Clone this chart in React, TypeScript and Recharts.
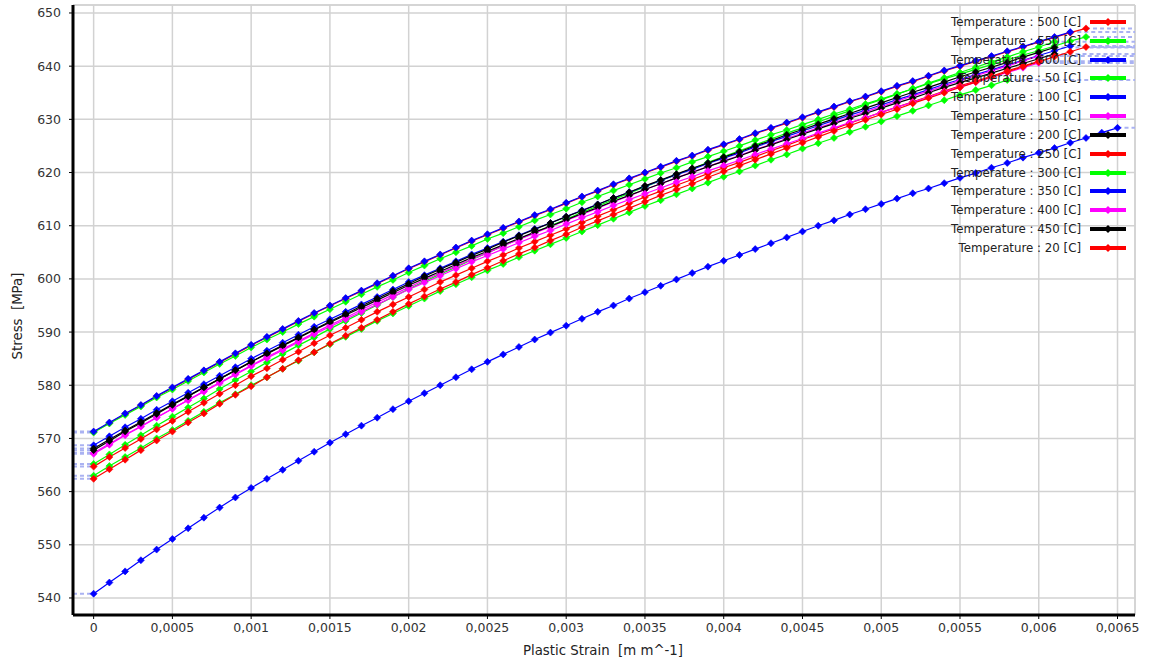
import React from 'react';
import { LineChart, Line, XAxis, YAxis, CartesianGrid, ReferenceLine } from 'recharts';

// Plastic strain grid [m m^-1]
const STRAIN = [
  0, 0.0001, 0.0002, 0.0003, 0.0004, 0.0005, 0.0006, 0.0007, 0.0008, 0.0009,
  0.001, 0.0011, 0.0012, 0.0013, 0.0014, 0.0015, 0.0016, 0.0017, 0.0018, 0.0019,
  0.002, 0.0021, 0.0022, 0.0023, 0.0024, 0.0025, 0.0026, 0.0027, 0.0028, 0.0029,
  0.003, 0.0031, 0.0032, 0.0033, 0.0034, 0.0035, 0.0036, 0.0037, 0.0038, 0.0039,
  0.004, 0.0041, 0.0042, 0.0043, 0.0044, 0.0045, 0.0046, 0.0047, 0.0048, 0.0049,
  0.005, 0.0051, 0.0052, 0.0053, 0.0054, 0.0055, 0.0056, 0.0057, 0.0058, 0.0059,
  0.006, 0.0061, 0.0062, 0.0063, 0.0064, 0.0065,
];

const X_TICKS = [0, 0.0005, 0.001, 0.0015, 0.002, 0.0025, 0.003, 0.0035, 0.004, 0.0045, 0.005, 0.0055, 0.006, 0.0065];
const Y_TICKS = [540, 550, 560, 570, 580, 590, 600, 610, 620, 630, 640, 650];
const X_MIN = -0.000131;
const X_MAX = 0.006611;
const Y_MIN = 536.8;
const Y_MAX = 651.5;

// Stress [MPa] per temperature
const T500 = [
  571.2, 572.9, 574.6, 576.2, 577.9, 579.5, 581.1, 582.7, 584.3, 585.9,
  587.5, 589.0, 590.5, 592.0, 593.5, 594.9, 596.3, 597.7, 599.1, 600.5,
  601.9, 603.2, 604.5, 605.8, 607.1, 608.3, 609.5, 610.7, 611.9, 613.0,
  614.2, 615.4, 616.5, 617.7, 618.8, 619.9, 621.0, 622.1, 623.1, 624.2,
  625.2, 626.2, 627.3, 628.3, 629.3, 630.3, 631.3, 632.3, 633.3, 634.2,
  635.2, 636.2, 637.1, 638.1, 639.1, 640.0, 640.9, 641.8, 642.7, 643.6,
  644.5, 645.4, 646.3, 647.1,
];
const T550 = [
  571.1, 572.8, 574.4, 576.0, 577.7, 579.2, 580.8, 582.4, 584.0, 585.5,
  587.1, 588.6, 590.0, 591.5, 592.9, 594.3, 595.7, 597.1, 598.5, 599.8,
  601.2, 602.5, 603.8, 605.0, 606.2, 607.5, 608.6, 609.8, 611.0, 612.1,
  613.2, 614.4, 615.5, 616.6, 617.7, 618.8, 619.9, 620.9, 622.0, 623.0,
  624.0, 625.0, 626.1, 627.1, 628.0, 629.0, 630.0, 631.0, 631.9, 632.9,
  633.8, 634.8, 635.7, 636.7, 637.6, 638.5, 639.4, 640.3, 641.2, 642.1,
  642.9, 643.8, 644.7, 645.5,
];
const T600 = [
  571.3, 573.0, 574.7, 576.3, 578.0, 579.6, 581.2, 582.8, 584.4, 586.0,
  587.6, 589.1, 590.6, 592.1, 593.6, 595.0, 596.4, 597.8, 599.2, 600.6,
  602.0, 603.3, 604.6, 605.9, 607.2, 608.4, 609.6, 610.8, 612.0, 613.1,
  614.3, 615.5, 616.6, 617.8, 618.9, 620.0, 621.1, 622.2, 623.2, 624.3,
  625.3, 626.3, 627.4, 628.4, 629.4, 630.4, 631.4, 632.4, 633.4, 634.3,
  635.3, 636.3, 637.2, 638.2, 639.2, 640.1, 641.0, 641.9, 642.8, 643.7,
  644.6, 645.5, 646.4,
];
const T50 = [
  565.2, 567.0, 568.8, 570.6, 572.4, 574.1, 575.8, 577.5, 579.3, 581.0,
  582.6, 584.3, 585.9, 587.5, 589.0, 590.6, 592.1, 593.6, 595.1, 596.6,
  598.1, 599.5, 600.9, 602.2, 603.6, 604.9, 606.2, 607.5, 608.7, 610.0,
  611.2, 612.5, 613.7, 614.9, 616.1, 617.3, 618.5, 619.6, 620.7, 621.9,
  623.0, 624.1, 625.2, 626.3, 627.4, 628.4, 629.5, 630.6, 631.6, 632.7,
  633.7, 634.7, 635.8, 636.8, 637.8, 638.8, 639.8, 640.8, 641.7, 642.7,
  643.6, 644.6,
];
const T100 = [
  568.7, 570.4, 572.1, 573.7, 575.4, 577.0, 578.6, 580.2, 581.8, 583.4,
  585.0, 586.5, 588.0, 589.5, 591.0, 592.4, 593.8, 595.2, 596.6, 598.0,
  599.4, 600.7, 602.0, 603.3, 604.6, 605.8, 607.0, 608.2, 609.4, 610.5,
  611.7, 612.9, 614.0, 615.2, 616.3, 617.4, 618.5, 619.6, 620.6, 621.7,
  622.7, 623.7, 624.8, 625.8, 626.8, 627.8, 628.8, 629.8, 630.8, 631.7,
  632.7, 633.7, 634.6, 635.6, 636.6, 637.5, 638.4, 639.3, 640.2, 641.1,
  642.0, 642.9, 643.8,
];
const T150 = [
  567.1, 568.8, 570.6, 572.2, 573.9, 575.6, 577.2, 578.9, 580.5, 582.1,
  583.7, 585.3, 586.8, 588.3, 589.8, 591.3, 592.7, 594.2, 595.6, 597.0,
  598.4, 599.8, 601.1, 602.4, 603.7, 604.9, 606.2, 607.4, 608.6, 609.8,
  611.0, 612.1, 613.3, 614.5, 615.6, 616.8, 617.9, 619.0, 620.1, 621.1,
  622.2, 623.2, 624.3, 625.3, 626.4, 627.4, 628.4, 629.4, 630.4, 631.4,
  632.4, 633.4, 634.4, 635.3, 636.3, 637.3, 638.2, 639.1, 640.0, 641.0,
  641.9,
];
const T200 = [
  568.1, 569.8, 571.5, 573.1, 574.8, 576.4, 578.0, 579.6, 581.2, 582.8,
  584.4, 585.9, 587.4, 588.9, 590.4, 591.8, 593.2, 594.6, 596.0, 597.4,
  598.8, 600.1, 601.4, 602.7, 604.0, 605.2, 606.4, 607.6, 608.8, 609.9,
  611.1, 612.3, 613.4, 614.6, 615.7, 616.8, 617.9, 619.0, 620.0, 621.1,
  622.1, 623.1, 624.2, 625.2, 626.2, 627.2, 628.2, 629.2, 630.2, 631.1,
  632.1, 633.1, 634.0, 635.0, 636.0, 636.9, 637.8, 638.7, 639.6, 640.5,
  641.4, 642.3,
];
const T250 = [
  564.7, 566.5, 568.2, 569.9, 571.7, 573.3, 575.0, 576.7, 578.4, 580.0,
  581.7, 583.2, 584.8, 586.3, 587.9, 589.4, 590.8, 592.3, 593.8, 595.2,
  596.6, 598.0, 599.4, 600.7, 602.0, 603.3, 604.5, 605.8, 607.0, 608.2,
  609.4, 610.6, 611.8, 613.0, 614.2, 615.4, 616.5, 617.6, 618.7, 619.8,
  620.9, 621.9, 623.0, 624.1, 625.1, 626.2, 627.2, 628.2, 629.3, 630.3,
  631.3, 632.3, 633.3, 634.3, 635.3, 636.3, 637.2, 638.1, 639.1, 640.0,
  640.9,
];
const T300 = [
  563.0, 564.8, 566.5, 568.2, 570.0, 571.6, 573.3, 575.0, 576.7, 578.3,
  580.0, 581.5, 583.1, 584.6, 586.2, 587.7, 589.1, 590.6, 592.1, 593.5,
  594.9, 596.3, 597.7, 599.0, 600.3, 601.6, 602.8, 604.1, 605.3, 606.5,
  607.7, 608.9, 610.1, 611.3, 612.5, 613.7, 614.8, 615.9, 617.0, 618.1,
  619.2, 620.2, 621.3, 622.4, 623.4, 624.5, 625.5, 626.5, 627.6, 628.6,
  629.6, 630.6, 631.6, 632.6, 633.6, 634.6, 635.5, 636.4, 637.4,
];
const T350 = [
  540.8, 542.9, 545.0, 547.1, 549.1, 551.1, 553.1, 555.1, 557.0, 558.9,
  560.7, 562.4, 564.1, 565.8, 567.5, 569.2, 570.8, 572.4, 573.9, 575.5,
  577.0, 578.5, 580.0, 581.5, 583.0, 584.4, 585.8, 587.2, 588.6, 589.9,
  591.2, 592.5, 593.8, 595.0, 596.3, 597.5, 598.7, 599.9, 601.1, 602.3,
  603.4, 604.5, 605.6, 606.7, 607.8, 608.9, 610.0, 611.0, 612.1, 613.1,
  614.1, 615.1, 616.1, 617.0, 618.0, 619.0, 619.9, 620.9, 621.8, 622.8,
  623.7, 624.6, 625.6, 626.5, 627.5, 628.4,
];
const T400 = [
  567.3, 569.0, 570.7, 572.3, 574.0, 575.6, 577.2, 578.8, 580.4, 582.0,
  583.6, 585.1, 586.6, 588.1, 589.6, 591.0, 592.4, 593.8, 595.2, 596.6,
  598.0, 599.3, 600.6, 601.9, 603.2, 604.4, 605.6, 606.8, 608.0, 609.1,
  610.3, 611.5, 612.6, 613.8, 614.9, 616.0, 617.1, 618.2, 619.2, 620.3,
  621.3, 622.3, 623.4, 624.4, 625.4, 626.4, 627.4, 628.4, 629.4, 630.3,
  631.3, 632.3, 633.2, 634.2, 635.2, 636.1, 637.0, 637.9, 638.8, 639.7,
  640.6,
];
const T450 = [
  567.8, 569.5, 571.3, 572.9, 574.6, 576.3, 577.9, 579.6, 581.2, 582.8,
  584.4, 586.0, 587.5, 589.0, 590.5, 592.0, 593.4, 594.9, 596.3, 597.7,
  599.1, 600.5, 601.8, 603.1, 604.4, 605.6, 606.9, 608.1, 609.3, 610.5,
  611.7, 612.8, 614.0, 615.2, 616.3, 617.5, 618.6, 619.7, 620.8, 621.8,
  622.9, 623.9, 625.0, 626.0, 627.1, 628.1, 629.1, 630.1, 631.1, 632.1,
  633.1, 634.1, 635.1, 636.0, 637.0, 638.0, 638.9, 639.8, 640.7, 641.7,
  642.6, 643.5,
];
const T20 = [
  562.4, 564.2, 566.0, 567.8, 569.6, 571.3, 573.0, 574.7, 576.5, 578.2,
  579.8, 581.5, 583.1, 584.7, 586.2, 587.8, 589.3, 590.8, 592.3, 593.8,
  595.3, 596.7, 598.1, 599.4, 600.8, 602.1, 603.4, 604.7, 605.9, 607.2,
  608.4, 609.7, 610.9, 612.1, 613.3, 614.5, 615.7, 616.8, 617.9, 619.1,
  620.2, 621.3, 622.4, 623.5, 624.6, 625.6, 626.7, 627.8, 628.8, 629.9,
  630.9, 631.9, 633.0, 634.0, 635.0, 636.0, 637.0, 638.0, 638.9, 639.9,
  640.8, 641.8, 642.7, 643.6,
];

const TEMPS = ['500', '550', '600', '50', '100', '150', '200', '250', '300', '350', '400', '450', '20'];
const COLORS = ['#ff0000', '#00ff00', '#0000ff', '#00ff00', '#0000ff', '#ff00ff', '#000000', '#ff0000', '#00ff00', '#0000ff', '#ff00ff', '#000000', '#ff0000'];
const VALUES = [T500, T550, T600, T50, T100, T150, T200, T250, T300, T350, T400, T450, T20];

const SERIES = TEMPS.map((t, i) => ({
  name: `Temperature : ${t} [C]`,
  color: COLORS[i],
  data: VALUES[i].map((v, k) => ({ x: STRAIN[k], y: v })),
}));

const fmtX = (v: number) => String(v).replace('.', ',');

const makeDot = (color: string, r: number) => (p: any) => {
  const { cx, cy, index } = p;
  if (cx == null || cy == null) return <g key={`e-${index}`} />;
  return (
    <polygon
      key={`d-${index}`}
      points={`${cx},${cy - r} ${cx + r},${cy} ${cx},${cy + r} ${cx - r},${cy}`}
      fill={color}
      stroke={color}
      strokeWidth={0.6}
    />
  );
};

const FONT = '"DejaVu Sans", Verdana, sans-serif';

export default function App() {
  return (
    <div style={{ position: 'absolute', left: 0, top: 0, width: 1152, height: 662, background: '#fff', fontFamily: FONT }}>
      <LineChart width={1152} height={662} margin={{ top: 5, right: 17, left: 13, bottom: 17 }}>
        <CartesianGrid stroke="#d2d2d2" strokeWidth={1.5} />
        <ReferenceLine y={Y_MAX} stroke="#d2d2d2" strokeWidth={1.5} />
        <ReferenceLine x={X_MAX} stroke="#d2d2d2" strokeWidth={1.5} />
        <XAxis
          type="number"
          dataKey="x"
          domain={[X_MIN, X_MAX]}
          ticks={X_TICKS}
          allowDataOverflow
          interval={0}
          height={30}
          tickFormatter={fmtX}
          axisLine={{ stroke: '#000', strokeWidth: 3 }}
          tickLine={{ stroke: '#000', strokeWidth: 1 }}
          tickSize={4}
          tickMargin={4}
          tick={{ fontSize: 12.5, fill: '#333', fontFamily: FONT }}
        />
        <YAxis
          type="number"
          domain={[Y_MIN, Y_MAX]}
          ticks={Y_TICKS}
          allowDataOverflow
          interval={0}
          width={60}
          axisLine={{ stroke: '#000', strokeWidth: 3 }}
          tickLine={{ stroke: '#000', strokeWidth: 1 }}
          tickSize={4}
          tickMargin={8}
          tick={{ fontSize: 12.5, fill: '#333', fontFamily: FONT }}
        />
        {SERIES.map((s, i) => (
          <Line
            key={`l-${i}`}
            data={[{ x: X_MIN, y: s.data[0].y }, { x: s.data[0].x, y: s.data[0].y }]}
            dataKey="y"
            stroke="#aab2f2"
            strokeWidth={2}
            strokeDasharray="4 3"
            dot={false}
            activeDot={false}
            isAnimationActive={false}
            legendType="none"
          />
        ))}
        {SERIES.map((s, i) => (
          <Line
            key={`r-${i}`}
            data={[{ x: s.data[s.data.length - 1].x, y: s.data[s.data.length - 1].y }, { x: X_MAX, y: s.data[s.data.length - 1].y }]}
            dataKey="y"
            stroke="#aab2f2"
            strokeWidth={2}
            strokeDasharray="4 3"
            dot={false}
            activeDot={false}
            isAnimationActive={false}
            legendType="none"
          />
        ))}
        {SERIES.map((s, i) => (
          <Line
            key={`s-${i}`}
            data={s.data}
            dataKey="y"
            name={s.name}
            stroke={s.color}
            strokeWidth={1.2}
            dot={makeDot(s.color, 3.5)}
            activeDot={false}
            isAnimationActive={false}
          />
        ))}
      </LineChart>

      <div style={{ position: 'absolute', left: 0, top: 316, width: 34, height: 0 }}>
        <div style={{ position: 'absolute', left: 17, top: 0, transform: 'translate(-50%, -50%) rotate(-90deg)', whiteSpace: 'pre', fontSize: 13.3, color: '#222' }}>
          {'Stress  [MPa]'}
        </div>
      </div>
      <div style={{ position: 'absolute', left: 403, top: 643, width: 400, textAlign: 'center', whiteSpace: 'pre', fontSize: 13.3, color: '#222' }}>
        {'Plastic Strain  [m m^-1]'}
      </div>

      {SERIES.map((s, i) => {
        const cy = 22 + i * 18.83;
        return (
          <React.Fragment key={`lg-${i}`}>
            <div style={{ position: 'absolute', left: 861, top: cy - 9, width: 220, height: 18, lineHeight: '18px', textAlign: 'right', fontSize: 11.8, color: '#222', whiteSpace: 'pre' }}>
              {s.name}
            </div>
            <svg style={{ position: 'absolute', left: 1090, top: cy - 6 }} width={36} height={12}>
              <line x1={0} y1={6} x2={36} y2={6} stroke={s.color} strokeWidth={4} />
              <polygon points="18,2 22,6 18,10 14,6" fill={s.color} />
            </svg>
          </React.Fragment>
        );
      })}
    </div>
  );
}
